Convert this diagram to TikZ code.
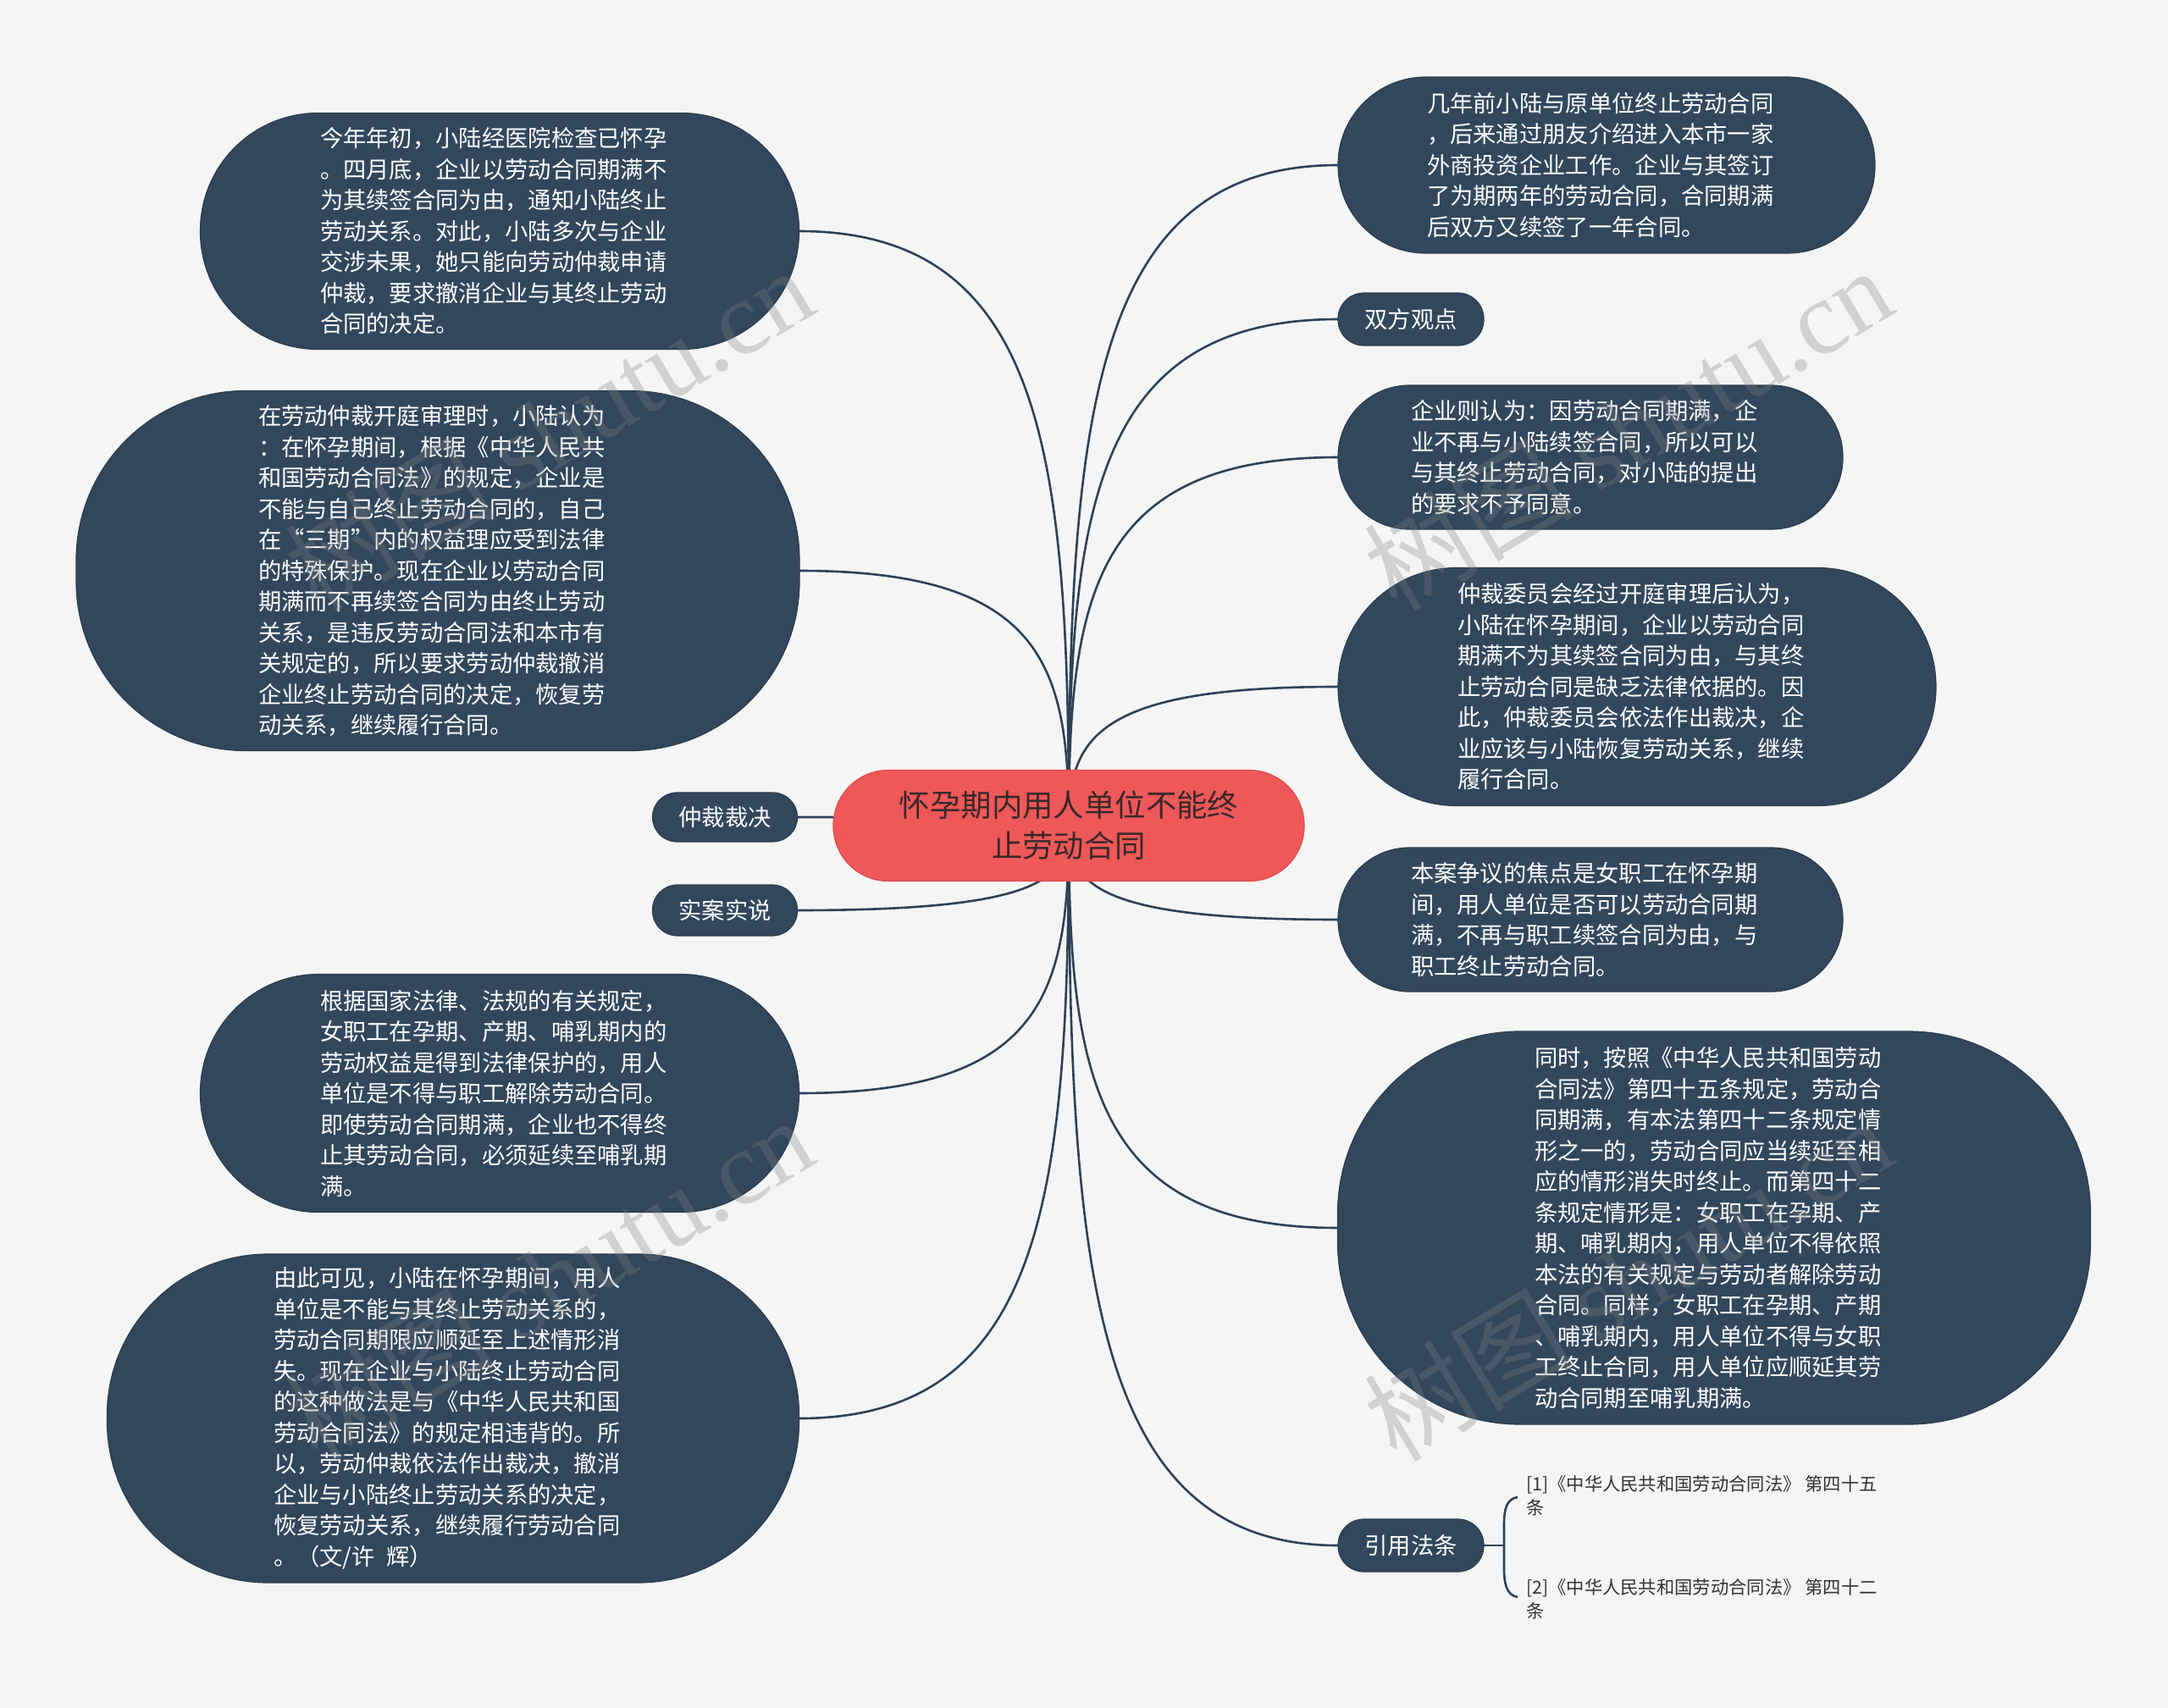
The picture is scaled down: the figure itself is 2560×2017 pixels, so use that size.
\documentclass[tikz,border=0pt]{standalone}
\usepackage{fontspec}
\setmainfont{Noto Sans CJK SC}
\newfontfamily\wmlatin{Liberation Serif}
\usetikzlibrary{calc}
\definecolor{bgc}{HTML}{F5F5F5}
\definecolor{nodec}{HTML}{33475C}
\definecolor{nodeb}{HTML}{2A3B4D}
\definecolor{linec}{HTML}{2E4156}
\definecolor{rootc}{HTML}{EF5858}
\definecolor{rootb}{HTML}{E04A4A}
\definecolor{roott}{HTML}{3A2828}
\definecolor{reft}{HTML}{333333}
\definecolor{wmc}{HTML}{808080}
\newcommand\mmlink[2]{\draw[link] (#1) .. controls ($(#1)!0.62!(#1 |- #2)$) and ($(#2 -| #1)!0.09!(#2)$) .. (#2);}
\tikzset{
  box/.style={fill=nodec,draw=nodeb,line width=1.2pt,text=white,align=left,inner sep=0pt,
    font=\fontsize{27.3}{36.5}\selectfont},
  bigbox/.style={box,text width=424pt},
  sz/.style n args={3}{minimum width=#1pt,minimum height=#2pt,rounded corners=#3pt},
  rootbox/.style={fill=rootc,draw=rootb,line width=1.2pt,text=roott,align=center,inner sep=0pt,
    font=\fontsize{36.4}{48}\selectfont},
  link/.style={draw=linec,line width=2.6pt},
  reftext/.style={text=reft,align=left,inner sep=0pt,anchor=west,font=\fontsize{21.3}{28}\selectfont},
  wm/.style={text=wmc,opacity=0.3,rotate=31,inner sep=0pt,font=\fontsize{124}{124}\selectfont}
}
\begin{document}
\begin{tikzpicture}[x=1pt,y=-1pt]
\fill[bgc] (0,0) rectangle (2560,2017);
\useasboundingbox (0,0) rectangle (2560,2017);

% placeholders that fix positions and anchors
\node[sz={556}{131}{65},inner sep=0pt] (root) at (1262,975) {};
\node[sz={707}{279}{139},inner sep=0pt] (L1) at (590,273) {};
\node[sz={854}{425}{200},inner sep=0pt] (L2) at (517,674) {};
\node[sz={171}{58}{29},inner sep=0pt] (zc) at (856,965) {};
\node[sz={171}{60}{29.5},inner sep=0pt] (ss) at (856,1075) {};
\node[sz={707}{281}{140},inner sep=0pt] (L3) at (590,1291) {};
\node[sz={817}{388}{190},inner sep=0pt] (L4) at (535,1675) {};
\node[sz={634}{208}{103.5},inner sep=0pt] (R1) at (1897,195) {};
\node[sz={172}{62}{30.5},inner sep=0pt] (sf) at (1666,377) {};
\node[sz={596}{170}{84.5},inner sep=0pt] (R2) at (1878,540) {};
\node[sz={706}{281}{140},inner sep=0pt] (R3) at (1933,811) {};
\node[sz={596}{170}{84.5},inner sep=0pt] (R4) at (1878,1086) {};
\node[sz={889}{464}{215},inner sep=0pt] (R5) at (2024,1450) {};
\node[sz={172}{62}{30.5},inner sep=0pt] (yy) at (1666,1825) {};

% connectors
\mmlink{root.center}{L1.east}
\mmlink{root.center}{L2.east}
\mmlink{root.center}{zc.east}
\mmlink{root.center}{ss.east}
\mmlink{root.center}{L3.east}
\mmlink{root.center}{L4.east}
\mmlink{root.center}{R1.west}
\mmlink{root.center}{sf.west}
\mmlink{root.center}{R2.west}
\mmlink{root.center}{R3.west}
\mmlink{root.center}{R4.west}
\mmlink{root.center}{R5.west}
\mmlink{root.center}{yy.west}

% brace for references
\coordinate (bt) at (1792,1768);
\coordinate (bb) at (1792,1886);
\coordinate (bm) at (1776,1825);
\draw[link] (bt) .. controls (1779,1770) and (1776,1782) .. (1776,1800) -- (1776,1852) .. controls (1776,1870) and (1779,1884) .. (bb);
\draw[link] (yy.east) -- (bm);

% visible boxes
\node[bigbox,sz={707}{279}{139}] (tL1) at (L1.center) {今年年初，小陆经医院检查已怀孕\\。四月底，企业以劳动合同期满不\\为其续签合同为由，通知小陆终止\\劳动关系。对此，小陆多次与企业\\交涉未果，她只能向劳动仲裁申请\\仲裁，要求撤消企业与其终止劳动\\合同的决定。};
\node[bigbox,sz={854}{425}{200}] (tL2) at (L2.center) {在劳动仲裁开庭审理时，小陆认为\\：在怀孕期间，根据《中华人民共\\和国劳动合同法》的规定，企业是\\不能与自己终止劳动合同的，自己\\在“三期”内的权益理应受到法律\\的特殊保护。现在企业以劳动合同\\期满而不再续签合同为由终止劳动\\关系，是违反劳动合同法和本市有\\关规定的，所以要求劳动仲裁撤消\\企业终止劳动合同的决定，恢复劳\\动关系，继续履行合同。};
\node[box,sz={171}{58}{29}] (tzc) at (zc.center) {仲裁裁决};
\node[box,sz={171}{60}{29.5}] (tss) at (ss.center) {实案实说};
\node[bigbox,sz={707}{281}{140}] (tL3) at (L3.center) {根据国家法律、法规的有关规定，\\女职工在孕期、产期、哺乳期内的\\劳动权益是得到法律保护的，用人\\单位是不得与职工解除劳动合同。\\即使劳动合同期满，企业也不得终\\止其劳动合同，必须延续至哺乳期\\满。};
\node[bigbox,sz={817}{388}{190}] (tL4) at (L4.center) {由此可见，小陆在怀孕期间，用人\\单位是不能与其终止劳动关系的，\\劳动合同期限应顺延至上述情形消\\失。现在企业与小陆终止劳动合同\\的这种做法是与《中华人民共和国\\劳动合同法》的规定相违背的。所\\以，劳动仲裁依法作出裁决，撤消\\企业与小陆终止劳动关系的决定，\\恢复劳动关系，继续履行劳动合同\\。（文/许\hspace{0.5em}辉）};
\node[bigbox,sz={634}{208}{103.5}] (tR1) at (R1.center) {几年前小陆与原单位终止劳动合同\\，后来通过朋友介绍进入本市一家\\外商投资企业工作。企业与其签订\\了为期两年的劳动合同，合同期满\\后双方又续签了一年合同。};
\node[box,sz={172}{62}{30.5}] (tsf) at (sf.center) {双方观点};
\node[bigbox,sz={596}{170}{84.5}] (tR2) at (R2.center) {企业则认为：因劳动合同期满，企\\业不再与小陆续签合同，所以可以\\与其终止劳动合同，对小陆的提出\\的要求不予同意。};
\node[bigbox,sz={706}{281}{140}] (tR3) at (R3.center) {仲裁委员会经过开庭审理后认为，\\小陆在怀孕期间，企业以劳动合同\\期满不为其续签合同为由，与其终\\止劳动合同是缺乏法律依据的。因\\此，仲裁委员会依法作出裁决，企\\业应该与小陆恢复劳动关系，继续\\履行合同。};
\node[bigbox,sz={596}{170}{84.5}] (tR4) at (R4.center) {本案争议的焦点是女职工在怀孕期\\间，用人单位是否可以劳动合同期\\满，不再与职工续签合同为由，与\\职工终止劳动合同。};
\node[bigbox,sz={889}{464}{215}] (tR5) at (R5.center) {同时，按照《中华人民共和国劳动\\合同法》第四十五条规定，劳动合\\同期满，有本法第四十二条规定情\\形之一的，劳动合同应当续延至相\\应的情形消失时终止。而第四十二\\条规定情形是：女职工在孕期、产\\期、哺乳期内，用人单位不得依照\\本法的有关规定与劳动者解除劳动\\合同。同样，女职工在孕期、产期\\、哺乳期内，用人单位不得与女职\\工终止合同，用人单位应顺延其劳\\动合同期至哺乳期满。};
\node[box,sz={172}{62}{30.5}] (tyy) at (yy.center) {引用法条};

% root on top
\node[rootbox,sz={556}{131}{65}] (troot) at (root.center) {怀孕期内用人单位不能终\\止劳动合同};

% references
\node[reftext] (ref1) at (1802,1766) {[1]《中华人民共和国劳动合同法》 第四十五\\条};
\node[reftext] (ref2) at (1802,1888) {[2]《中华人民共和国劳动合同法》 第四十二\\条};

% watermarks
\node[wm] (wm1) at (648,506) {树图 {\wmlatin shutu.cn}};
\node[wm] (wm2) at (1922,506) {树图 {\wmlatin shutu.cn}};
\node[wm] (wm3) at (648,1510) {树图 {\wmlatin shutu.cn}};
\node[wm] (wm4) at (1922,1510) {树图 {\wmlatin shutu.cn}};
\end{tikzpicture}
\end{document}
